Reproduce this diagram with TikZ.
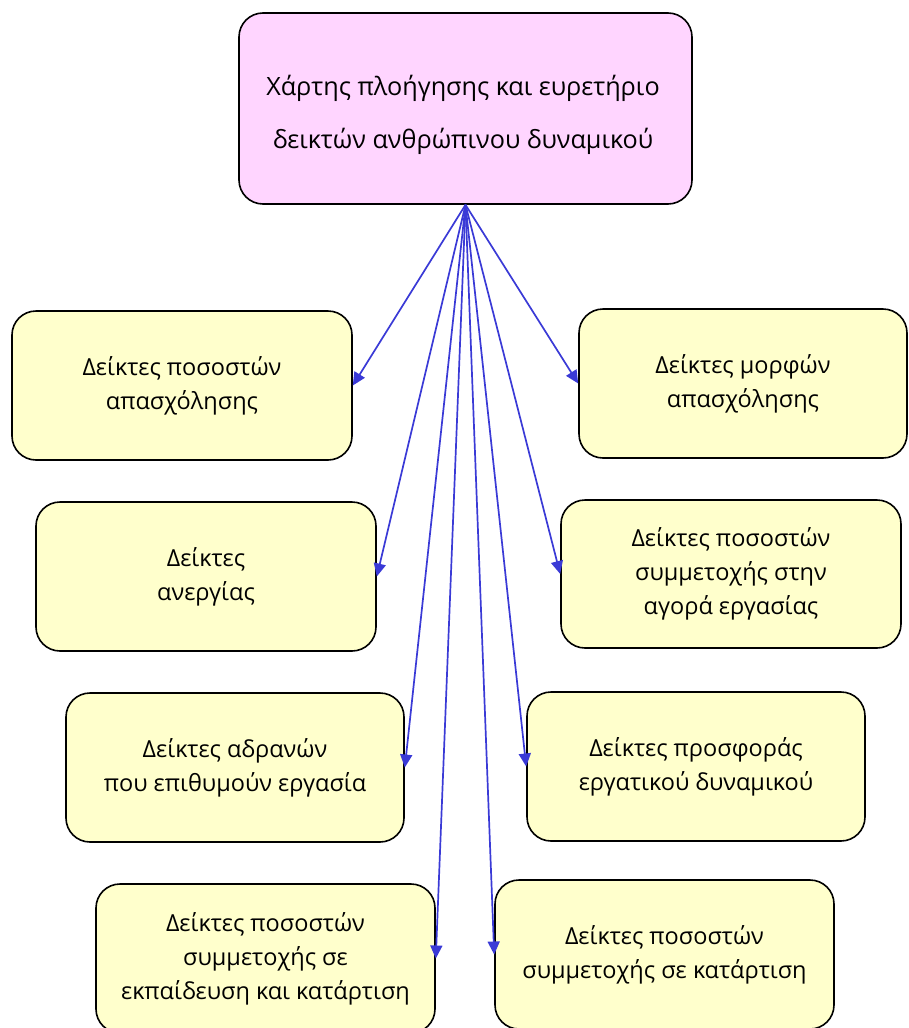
\documentclass[tikz,border=0pt]{standalone}
\usepackage{fontspec}
\setmainfont{Open Sans}
\usetikzlibrary{arrows.meta}
\definecolor{pinkfill}{HTML}{FFD5FF}
\definecolor{yelfill}{HTML}{FFFFCC}
\definecolor{arrblue}{HTML}{3A3AD6}
\begin{document}
\begin{tikzpicture}[x=1pt,y=-1pt,
  box/.style={draw=black, line width=1.6pt, rounded corners=24pt, fill=yelfill,
    align=center, inner sep=0pt, font=\fontsize{23.5}{34}\selectfont},
  topbox/.style={box, fill=pinkfill},
  link/.style={draw=arrblue, line width=1.7pt, -{Triangle[length=13pt,width=12pt]}}]
\useasboundingbox (0,0) rectangle (908,1028);
\clip (0,0) rectangle (908,1028);
% top
\node[topbox, minimum width=453pt, minimum height=191pt] (top) at (465.5,108.5) {};
\node[font=\fontsize{25.2}{53}\selectfont, align=center] (toptext) at (463,114.5)
  {Χάρτης πλοήγησης και ευρετήριο\\ δεικτών ανθρώπινου δυναμικού};
% left column
\node[box, minimum width=340pt, minimum height=149pt] (L1) at (182,385.5)
  {Δείκτες ποσοστών\\ απασχόλησης};
\node[box, minimum width=340pt, minimum height=149pt] (L2) at (206,576.5)
  {Δείκτες\\ ανεργίας};
\node[box, minimum width=338pt, minimum height=149pt] (L3) at (235,767.5)
  {Δείκτες αδρανών\\ που επιθυμούν εργασία};
\node[box, minimum width=339pt, minimum height=149pt] (L4) at (265.5,958.5)
  {Δείκτες ποσοστών\\ συμμετοχής σε\\ εκπαίδευση και κατάρτιση};
% right column
\node[box, minimum width=328pt, minimum height=149pt] (R1) at (743,383.5)
  {Δείκτες μορφών\\ απασχόλησης};
\node[box, minimum width=340pt, minimum height=148pt] (R2) at (731,574)
  {Δείκτες ποσοστών\\ συμμετοχής στην\\ αγορά εργασίας};
\node[box, minimum width=338pt, minimum height=149pt] (R3) at (696,766.5)
  {Δείκτες προσφοράς\\ εργατικού δυναμικού};
\node[box, minimum width=339pt, minimum height=149pt] (R4) at (664.5,954.5)
  {Δείκτες ποσοστών\\ συμμετοχής σε κατάρτιση};
% connectors
\foreach \n in {L1,L2,L3,L4} \draw[link] (top.south) -- (\n.east);
\foreach \n in {R1,R2,R3,R4} \draw[link] (top.south) -- (\n.west);
\end{tikzpicture}
\end{document}
